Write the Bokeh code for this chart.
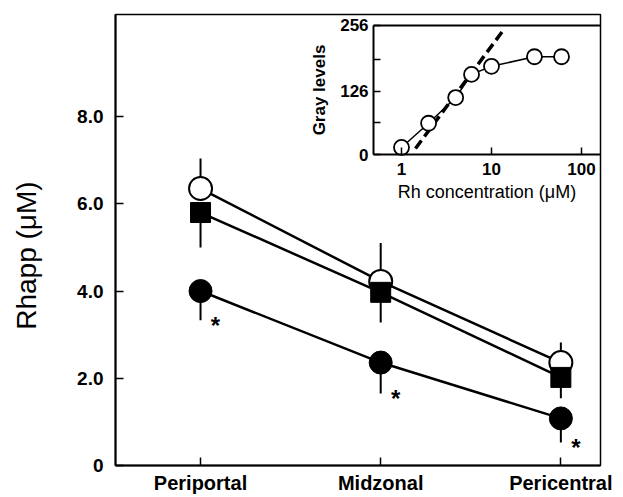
from bokeh.core.properties import value
from bokeh.embed import file_html
from bokeh.models import (ColumnDataSource, FixedTicker, LinearAxis,
                          LogScale, Range1d)
from bokeh.plotting import figure
from bokeh.resources import INLINE

# ---- main panel: apparent Rh concentration by lobular zone ----
zones = ["Periportal", "Midzonal", "Pericentral"]
zone_pos = [1, 2, 3]

open_circle = [6.35, 4.22, 2.36]
open_circle_err = [0.69, 0.88, 0.46]      # error bars drawn upward

filled_square = [5.80, 3.97, 2.02]
filled_square_err = [0.80, 0.69, 0.48]    # error bars drawn downward

filled_circle = [4.00, 2.36, 1.08]
filled_circle_err = [0.67, 0.71, 0.55]    # error bars drawn downward

y_ticks = [0, 2, 4, 6, 8]
y_tick_labels = ["0", "2.0", "4.0", "6.0", "8.0"]

# ---- inset: calibration of gray levels against Rh concentration ----
conc = [1, 2, 4, 6, 10, 30, 60]
gray = [14, 62, 113, 159, 175, 194, 194]
fit_conc = [1.43, 13.2]
fit_gray = [12, 244]
inset_y_ticks = [0, 126, 256]
inset_y_minor = [63, 189]
inset_x_ticks = [1, 10, 100]

FONT = "Liberation Sans"

p = figure(width=623, height=497,
           x_range=Range1d(0.528, 3.22), y_range=Range1d(0, 10.34),
           output_backend="svg", toolbar_location=None,
           min_border_left=115, min_border_right=23,
           min_border_top=14, min_border_bottom=32)
p.grid.visible = False
p.outline_line_color = "black"
p.outline_line_width = 1.5
p.background_fill_color = "white"
p.border_fill_color = "white"

# main axes
p.xaxis.ticker = FixedTicker(ticks=zone_pos)
p.xaxis.major_label_overrides = {x: z for x, z in zip(zone_pos, zones)}
p.yaxis.ticker = FixedTicker(ticks=y_ticks)
p.yaxis.major_label_overrides = {t: s for t, s in zip(y_ticks, y_tick_labels)}
for ax in (p.xaxis, p.yaxis):
    ax.axis_line_width = 2
    ax.axis_line_color = "black"
    ax.major_tick_in = 8
    ax.major_tick_out = 0
    ax.major_tick_line_width = 1.5
    ax.minor_tick_line_color = None
    ax.major_label_text_font = FONT
    ax.major_label_text_font_style = "bold"
    ax.major_label_text_color = "black"
p.xaxis.major_label_text_font_size = "20px"
p.xaxis.major_label_standoff = 6
p.yaxis.major_label_text_font_size = "19px"
p.yaxis.major_label_standoff = 12

# y title (trailing no-break spaces nudge it a little below centre)
p.yaxis.axis_label = "Rhapp (μM)" + "\u00a0" * 4
p.yaxis.axis_label_text_font = FONT
p.yaxis.axis_label_text_font_size = "28px"
p.yaxis.axis_label_text_font_style = "normal"
p.yaxis.axis_label_text_color = "black"
p.yaxis.axis_label_standoff = 32

# connecting lines
for ys in (open_circle, filled_square, filled_circle):
    p.line(zone_pos, ys, line_color="black", line_width=2.5)

# error bars
def bars(ys, errs, up):
    src = ColumnDataSource(dict(
        x=zone_pos, y0=ys,
        y1=[y + e if up else y - e for y, e in zip(ys, errs)]))
    p.segment(x0="x", y0="y0", x1="x", y1="y1", source=src,
              line_color="black", line_width=2)

bars(open_circle, open_circle_err, True)
bars(filled_square, filled_square_err, False)
bars(filled_circle, filled_circle_err, False)

p.scatter(zone_pos, open_circle, marker="circle", size=23,
          fill_color="white", line_color="black", line_width=2)
p.scatter(zone_pos, filled_square, marker="square", size=20,
          fill_color="black", line_color="black", line_width=1)
p.scatter(zone_pos, filled_circle, marker="circle", size=23,
          fill_color="black", line_color="black", line_width=1)

# significance marks beside the lowest series
star_src = ColumnDataSource(dict(
    x=zone_pos,
    y=[y - e for y, e in zip(filled_circle, filled_circle_err)],
    t=["*"] * len(zone_pos)))
p.text(x="x", y="y", text="t", source=star_src, x_offset=15, y_offset=5,
       text_align="center", text_baseline="alphabetic",
       text_font=value(FONT), text_font_style="bold",
       text_font_size="24px", text_color="black")

# ---- inset drawn on its own (log x, linear y) ranges ----
p.extra_x_ranges = {"ix": Range1d(6.64e-4, 162.6)}
p.extra_x_scales = {"ix": LogScale()}
p.extra_y_ranges = {"iy": Range1d(-617, 277.8)}

inset_left = 0.489
inset_right = 162.6

iy_axis = LinearAxis(x_range_name="ix", y_range_name="iy",
                     fixed_location=inset_left, bounds=(0, 256),
                     ticker=FixedTicker(ticks=inset_y_ticks,
                                        minor_ticks=inset_y_minor),
                     axis_label="Gray levels")
ix_axis = LinearAxis(x_range_name="ix", y_range_name="iy",
                     fixed_location=0, bounds=(inset_left, inset_right),
                     ticker=FixedTicker(ticks=inset_x_ticks),
                     axis_label="Rh concentration (μM)")
for ax in (iy_axis, ix_axis):
    ax.axis_line_width = 2
    ax.axis_line_color = "black"
    ax.major_tick_in = 7
    ax.major_tick_out = 0
    ax.minor_tick_in = 7
    ax.minor_tick_out = 0
    ax.major_tick_line_width = 1.5
    ax.minor_tick_line_width = 1.5
    ax.major_label_text_font = FONT
    ax.major_label_text_font_style = "bold"
    ax.major_label_text_font_size = "17px"
    ax.major_label_text_color = "black"
    ax.axis_label_text_font = FONT
    ax.axis_label_text_color = "black"
iy_axis.major_label_standoff = 5
iy_axis.axis_label_text_font_style = "bold"
iy_axis.axis_label_text_font_size = "17px"
iy_axis.axis_label_standoff = 8
ix_axis.major_label_standoff = 8
ix_axis.axis_label_text_font_style = "normal"
ix_axis.axis_label_text_font_size = "18px"
ix_axis.axis_label_standoff = 4
p.add_layout(iy_axis, "left")
p.add_layout(ix_axis, "below")

# inset top border
p.segment(x0=[inset_left], y0=[inset_y_ticks[-1]], x1=[inset_right],
          y1=[inset_y_ticks[-1]], x_range_name="ix", y_range_name="iy",
          line_color="black", line_width=2)

p.line(fit_conc, fit_gray, x_range_name="ix", y_range_name="iy",
       line_color="black", line_width=3.5, line_dash="10 5")
p.line(conc, gray, x_range_name="ix", y_range_name="iy",
       line_color="black", line_width=1.5)
p.scatter(conc, gray, x_range_name="ix", y_range_name="iy",
          marker="circle", size=15, fill_color="white",
          line_color="black", line_width=1.8)

open("out.html", "w").write(file_html(p, INLINE))
